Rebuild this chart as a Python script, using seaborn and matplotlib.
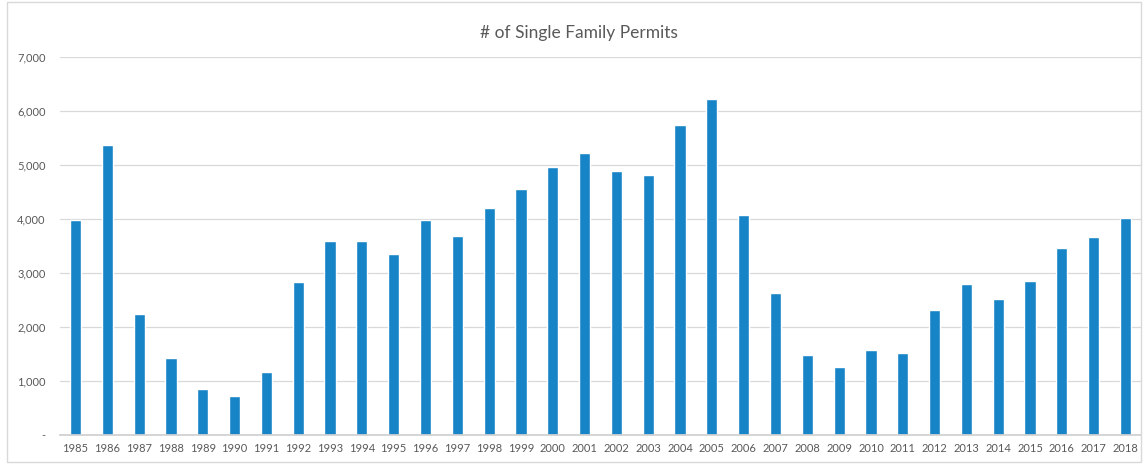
import pandas as pd
import seaborn as sns
import matplotlib.pyplot as plt
from matplotlib import ticker

# Dados
anos = [str(a) for a in range(1985, 2019)]
permits = [3990, 5380, 2230, 1420, 840, 720, 1160, 2840, 3600, 3590,
           3360, 3990, 3680, 4200, 4560, 4970, 5230, 4890, 4820, 5750,
           6220, 4080, 2620, 1480, 1250, 1570, 1520, 2320, 2790, 2520,
           2860, 3460, 3660, 4020]

df = pd.DataFrame({'ano': anos, 'permits': permits})

sns.set_theme(style="white")
plt.rcParams['font.family'] = ['Lato', 'DejaVu Sans']

fig = plt.figure(figsize=(11.46, 4.65), dpi=100)
ax = fig.add_axes([0.052, 0.065, 0.944, 0.812])
sns.barplot(x='ano', y='permits', data=df, color='#1784C7', saturation=1,
            width=0.35, ax=ax)

ax.set_ylim(0, 7000)
ax.set_xlim(-0.5, len(anos) - 0.5)
ax.yaxis.set_major_locator(ticker.MultipleLocator(1000))
ax.yaxis.set_major_formatter(ticker.FuncFormatter(lambda v, p: '-' if v == 0 else format(int(v), ',')))
ax.grid(axis='y', color='#d9d9d9', linewidth=0.9)
ax.set_axisbelow(True)
for s in ['top', 'right', 'left']:
    ax.spines[s].set_visible(False)
ax.spines['bottom'].set_color('#d0d0d0')
ax.tick_params(axis='both', length=0, labelsize=8, labelcolor='#595959')
ax.tick_params(axis='y', pad=10)
ax.tick_params(axis='x', pad=6)
ax.set_xlabel(None)
ax.set_ylabel(None)

fig.text(0.505, 0.93, '# of Single Family Permits', ha='center', va='center',
         fontsize=12.5, color='#595959')

# moldura do gráfico
fig.patches.append(plt.Rectangle((0.006, 0.006), 0.99, 0.99, transform=fig.transFigure,
                                 fill=False, edgecolor='#d9d9d9', linewidth=1))

plt.savefig('out.png', dpi=100)
plt.close()
